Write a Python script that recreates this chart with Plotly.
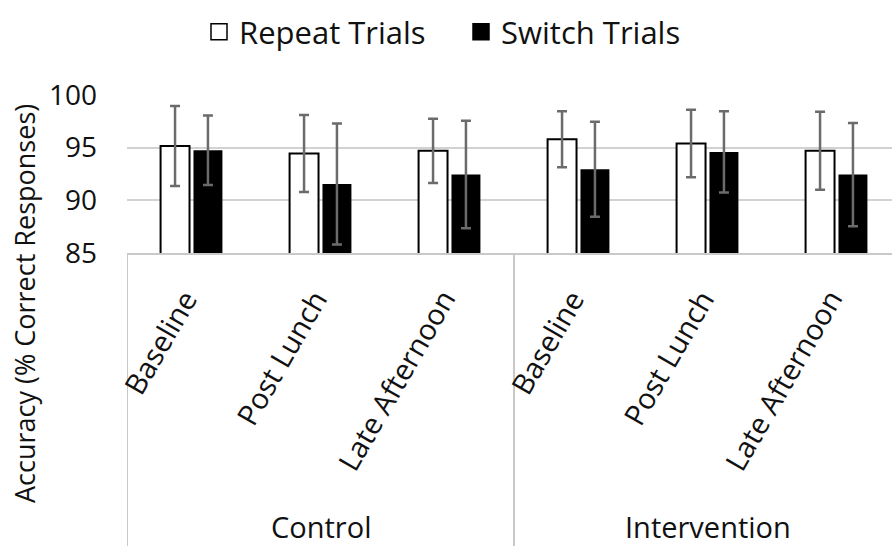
import plotly.graph_objects as go

# ---- data ----
groups = ["Control", "Intervention"]
sessions = ["Baseline", "Post Lunch", "Late Afternoon"]
repeat_mean = [95.15, 94.45, 94.7, 95.8, 95.4, 94.7]
repeat_err = [3.8, 3.65, 3.05, 2.65, 3.2, 3.7]
switch_mean = [94.75, 91.55, 92.45, 92.95, 94.6, 92.45]
switch_err = [3.3, 5.75, 5.1, 4.5, 3.85, 4.9]
y_ticks = [85, 90, 95, 100]

cats = [f"{g} {s}" for g in groups for s in sessions]
sess_labels = [s for g in groups for s in sessions]

FONT = "Open Sans"
W, H = 892, 546
ML, MT, MB = 127, 95, 293
plot_h = H - MT - MB

fig = go.Figure()
fig.add_trace(go.Bar(
    x=cats, y=repeat_mean, name="Repeat Trials", showlegend=False,
    marker=dict(color="white", line=dict(color="black", width=2)),
    error_y=dict(type="data", array=repeat_err, color="#6b6b6b", thickness=2.5, width=5),
))
fig.add_trace(go.Bar(
    x=cats, y=switch_mean, name="Switch Trials", showlegend=False,
    marker=dict(color="black", line=dict(color="black", width=0)),
    error_y=dict(type="data", array=switch_err, color="#6b6b6b", thickness=2.5, width=5),
))
# legend entries
fig.add_trace(go.Scatter(x=[None], y=[None], mode="markers", name="Repeat Trials",
                         marker=dict(symbol="square", size=16, color="white",
                                     line=dict(color="black", width=1.5))))
fig.add_trace(go.Scatter(x=[None], y=[None], mode="markers", name="Switch Trials",
                         marker=dict(symbol="square", size=16, color="black",
                                     line=dict(color="black", width=1.5))))

fig.update_layout(
    width=W, height=H,
    margin=dict(l=ML, r=0, t=MT, b=MB, autoexpand=False),
    paper_bgcolor="white", plot_bgcolor="white",
    font=dict(family=FONT, size=28, color="#111111"),
    barmode="group", bargap=0.49, bargroupgap=0.12,
    hovermode=False,
    showlegend=True,
    legend=dict(orientation="h", xref="container", yref="container",
                x=199 / W, xanchor="left", y=1 - 32 / H, yanchor="middle",
                font=dict(family=FONT, size=31, color="#111111"),
                entrywidth=217, entrywidthmode="pixels",
                bgcolor="rgba(0,0,0,0)", borderwidth=0),
    xaxis=dict(type="category", categoryorder="array", categoryarray=cats,
               range=[-0.5, -0.5 + (W - ML) / 129.0],
               showticklabels=False, showgrid=False, zeroline=False,
               showline=True, linecolor="#c9c9c9", linewidth=2, ticks=""),
    yaxis=dict(range=[y_ticks[0], y_ticks[-1]], tickvals=y_ticks,
               showgrid=True, gridcolor="#d2d2d2", gridwidth=2,
               zeroline=False, showline=False, ticks="",
               ticklabelstandoff=29,
               tickfont=dict(family=FONT, size=28, color="#111111")),
)

# category box dividers
for xv in [-0.5, 2.5]:
    fig.add_shape(type="line", xref="x", yref="paper", x0=xv, x1=xv,
                  y0=0, y1=-MB / plot_h, line=dict(color="#c9c9c9", width=2),
                  layer="above")

# session labels (rotated)
for c, lab in zip(cats, sess_labels):
    fig.add_annotation(x=c, xref="x", y=0, yref="paper", text=lab,
                       showarrow=False, textangle=-60,
                       xanchor="right", yanchor="top", xshift=17, yshift=-27,
                       font=dict(family=FONT, size=29, color="#111111"))
# group labels
for i, g in enumerate(groups):
    fig.add_annotation(x=cats[i * 3 + 1], xref="x", y=0, yref="paper", text=g,
                       showarrow=False, xanchor="center", yanchor="middle",
                       yshift=-(526 - (H - MB)),
                       font=dict(family=FONT, size=29, color="#111111"))

# y-axis title
fig.add_annotation(x=(24 - ML) / (W - ML), xref="paper",
                   y=((H - MB) - 304) / plot_h, yref="paper",
                   text="Accuracy (% Correct Responses)", showarrow=False,
                   textangle=-90, xanchor="center", yanchor="middle",
                   font=dict(family=FONT, size=27, color="#111111"))

fig.write_html("out.html")
